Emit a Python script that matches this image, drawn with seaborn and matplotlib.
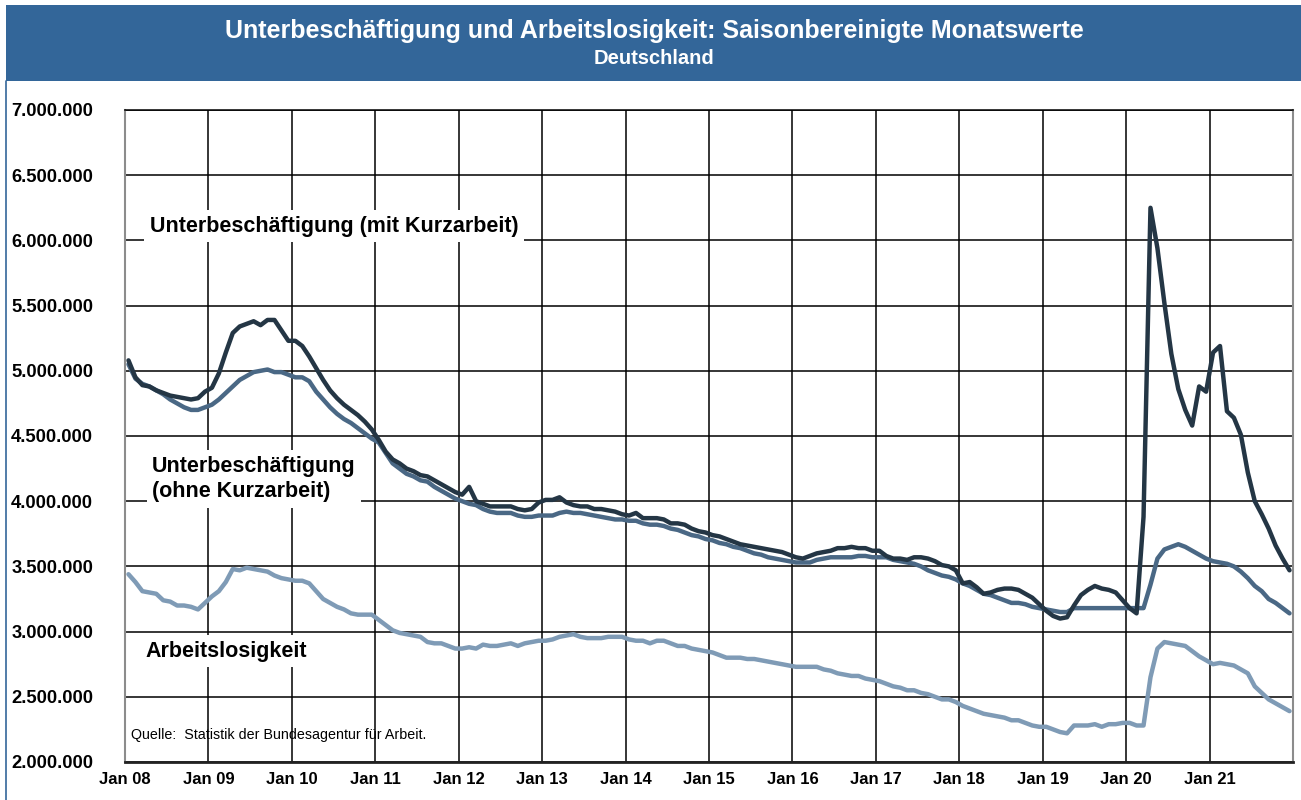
import numpy as np
import pandas as pd
import matplotlib
matplotlib.use("Agg")
import matplotlib.pyplot as plt
import seaborn as sns
from matplotlib.patches import Rectangle
from matplotlib.lines import Line2D
from matplotlib.ticker import FuncFormatter

# Monatswerte Jan 2008 - Dez 2021, in Mio. Personen
mit_kurzarbeit = [
    5.08, 4.95, 4.89, 4.88, 4.85, 4.83, 4.81, 4.80, 4.79, 4.78, 4.79, 4.84,  # 2008
    4.87, 4.98, 5.14, 5.29, 5.34, 5.36, 5.38, 5.35, 5.39, 5.39, 5.31, 5.23,  # 2009
    5.23, 5.19, 5.11, 5.02, 4.93, 4.85, 4.79, 4.74, 4.70, 4.66, 4.61, 4.55,  # 2010
    4.47, 4.38, 4.32, 4.29, 4.25, 4.23, 4.20, 4.19, 4.16, 4.13, 4.10, 4.07,  # 2011
    4.05, 4.11, 4.00, 3.98, 3.96, 3.96, 3.96, 3.96, 3.94, 3.93, 3.94, 3.99,  # 2012
    4.01, 4.01, 4.03, 3.99, 3.97, 3.96, 3.96, 3.94, 3.94, 3.93, 3.92, 3.90,  # 2013
    3.89, 3.91, 3.87, 3.87, 3.87, 3.86, 3.83, 3.83, 3.82, 3.79, 3.77, 3.76,  # 2014
    3.74, 3.73, 3.71, 3.69, 3.67, 3.66, 3.65, 3.64, 3.63, 3.62, 3.61, 3.59,  # 2015
    3.57, 3.56, 3.58, 3.60, 3.61, 3.62, 3.64, 3.64, 3.65, 3.64, 3.64, 3.62,  # 2016
    3.62, 3.58, 3.56, 3.56, 3.55, 3.57, 3.57, 3.56, 3.54, 3.51, 3.50, 3.47,  # 2017
    3.37, 3.38, 3.34, 3.29, 3.30, 3.32, 3.33, 3.33, 3.32, 3.29, 3.26, 3.21,  # 2018
    3.16, 3.12, 3.10, 3.11, 3.20, 3.28, 3.32, 3.35, 3.33, 3.32, 3.30, 3.24,  # 2019
    3.18, 3.14, 3.88, 6.25, 5.94, 5.52, 5.13, 4.86, 4.70, 4.58, 4.88, 4.84,  # 2020
    5.14, 5.19, 4.69, 4.64, 4.51, 4.22, 4.00, 3.90, 3.79, 3.66, 3.56, 3.47,  # 2021
]

ohne_kurzarbeit = [
    5.05, 4.94, 4.90, 4.88, 4.85, 4.82, 4.78, 4.75, 4.72, 4.70, 4.70, 4.72,
    4.74, 4.78, 4.83, 4.88, 4.93, 4.96, 4.99, 5.00, 5.01, 4.99, 4.99, 4.97,
    4.95, 4.95, 4.92, 4.84, 4.78, 4.72, 4.67, 4.63, 4.60, 4.56, 4.52, 4.48,
    4.45, 4.37, 4.29, 4.25, 4.21, 4.19, 4.16, 4.15, 4.11, 4.08, 4.05, 4.02,
    4.00, 3.98, 3.97, 3.94, 3.92, 3.91, 3.91, 3.91, 3.89, 3.88, 3.88, 3.89,
    3.89, 3.89, 3.91, 3.92, 3.91, 3.91, 3.90, 3.89, 3.88, 3.87, 3.86, 3.86,
    3.85, 3.85, 3.83, 3.82, 3.82, 3.81, 3.79, 3.78, 3.76, 3.74, 3.73, 3.71,
    3.70, 3.68, 3.67, 3.65, 3.64, 3.62, 3.60, 3.59, 3.57, 3.56, 3.55, 3.54,
    3.53, 3.53, 3.53, 3.55, 3.56, 3.57, 3.57, 3.57, 3.57, 3.58, 3.58, 3.57,
    3.57, 3.57, 3.55, 3.54, 3.53, 3.52, 3.50, 3.47, 3.45, 3.43, 3.42, 3.40,
    3.37, 3.35, 3.32, 3.29, 3.28, 3.26, 3.24, 3.22, 3.22, 3.21, 3.19, 3.18,
    3.17, 3.16, 3.15, 3.15, 3.18, 3.18, 3.18, 3.18, 3.18, 3.18, 3.18, 3.18,
    3.18, 3.18, 3.18, 3.36, 3.56, 3.63, 3.65, 3.67, 3.65, 3.62, 3.59, 3.56,
    3.54, 3.53, 3.52, 3.50, 3.46, 3.41, 3.35, 3.31, 3.25, 3.22, 3.18, 3.14,
]

arbeitslosigkeit = [
    3.44, 3.38, 3.31, 3.30, 3.29, 3.24, 3.23, 3.20, 3.20, 3.19, 3.17, 3.22,
    3.27, 3.31, 3.38, 3.48, 3.47, 3.49, 3.48, 3.47, 3.46, 3.43, 3.41, 3.40,
    3.39, 3.39, 3.37, 3.31, 3.25, 3.22, 3.19, 3.17, 3.14, 3.13, 3.13, 3.13,
    3.09, 3.05, 3.01, 2.99, 2.98, 2.97, 2.96, 2.92, 2.91, 2.91, 2.89, 2.87,
    2.87, 2.88, 2.87, 2.90, 2.89, 2.89, 2.90, 2.91, 2.89, 2.91, 2.92, 2.93,
    2.93, 2.94, 2.96, 2.97, 2.98, 2.96, 2.95, 2.95, 2.95, 2.96, 2.96, 2.96,
    2.94, 2.93, 2.93, 2.91, 2.93, 2.93, 2.91, 2.89, 2.89, 2.87, 2.86, 2.85,
    2.84, 2.82, 2.80, 2.80, 2.80, 2.79, 2.79, 2.78, 2.77, 2.76, 2.75, 2.74,
    2.73, 2.73, 2.73, 2.73, 2.71, 2.70, 2.68, 2.67, 2.66, 2.66, 2.64, 2.63,
    2.62, 2.60, 2.58, 2.57, 2.55, 2.55, 2.53, 2.52, 2.50, 2.48, 2.48, 2.46,
    2.43, 2.41, 2.39, 2.37, 2.36, 2.35, 2.34, 2.32, 2.32, 2.30, 2.28, 2.27,
    2.27, 2.25, 2.23, 2.22, 2.28, 2.28, 2.28, 2.29, 2.27, 2.29, 2.29, 2.30,
    2.30, 2.28, 2.28, 2.65, 2.87, 2.92, 2.91, 2.90, 2.89, 2.85, 2.81, 2.78,
    2.75, 2.76, 2.75, 2.74, 2.71, 2.68, 2.58, 2.53, 2.48, 2.45, 2.42, 2.39,
]

jahr_labels = ["Jan 08", "Jan 09", "Jan 10", "Jan 11", "Jan 12", "Jan 13", "Jan 14",
               "Jan 15", "Jan 16", "Jan 17", "Jan 18", "Jan 19", "Jan 20", "Jan 21"]
y_ticks = [2.0, 2.5, 3.0, 3.5, 4.0, 4.5, 5.0, 5.5, 6.0, 6.5, 7.0]

reihen = ["Arbeitslosigkeit", "ohne Kurzarbeit", "mit Kurzarbeit"]
farben = {"Arbeitslosigkeit": "#7f9bb6",
          "ohne Kurzarbeit": "#4a6885",
          "mit Kurzarbeit": "#243645"}

# long format for seaborn, points sit in the middle of each month
n = len(arbeitslosigkeit)
monat = np.arange(n) + 0.5
df = pd.concat([
    pd.DataFrame({"monat": monat, "wert": arbeitslosigkeit, "reihe": "Arbeitslosigkeit"}),
    pd.DataFrame({"monat": monat, "wert": ohne_kurzarbeit, "reihe": "ohne Kurzarbeit"}),
    pd.DataFrame({"monat": monat, "wert": mit_kurzarbeit, "reihe": "mit Kurzarbeit"}),
])

sns.set_theme(style="white")
plt.rcParams["font.family"] = ["Liberation Sans", "DejaVu Sans"]
plt.rcParams["text.color"] = "black"

W, H = 1301, 800
fig = plt.figure(figsize=(W / 100, H / 100), dpi=100)
fig.patch.set_facecolor("white")

# title bar + left border
blau = "#336699"
fig.patches.append(Rectangle((6 / W, 1 - 81 / H), 1, 76 / H, transform=fig.transFigure,
                             facecolor=blau, edgecolor="none", zorder=0))
fig.lines.append(Line2D([6 / W, 6 / W], [0, 1 - 81 / H], transform=fig.transFigure,
                        color=blau, linewidth=1.2))
fig.text(654 / W, 1 - 31 / H, "Unterbeschäftigung und Arbeitslosigkeit: Saisonbereinigte Monatswerte",
         color="white", fontsize=18, fontweight="bold", ha="center", va="center")
fig.text(654 / W, 1 - 58 / H, "Deutschland", color="white", fontsize=14.5,
         fontweight="bold", ha="center", va="center")

ax = fig.add_axes([125 / W, 38 / H, 1168 / W, 652 / H])
sns.lineplot(data=df, x="monat", y="wert", hue="reihe", hue_order=reihen, palette=farben,
             linewidth=3.2, legend=False, ax=ax, zorder=3)

ax.set_xlim(0, 168)
ax.set_ylim(2.0, 7.0)
ax.set_xticks(np.arange(0, 12 * len(jahr_labels), 12))
ax.set_xticklabels(jahr_labels, fontweight="bold", fontsize=12)
ax.set_yticks(y_ticks)
ax.yaxis.set_major_formatter(FuncFormatter(lambda v, p: f"{v * 1e6:,.0f}".replace(",", ".")))
for lbl in ax.get_yticklabels():
    lbl.set_fontweight("bold")
ax.tick_params(axis="y", length=0, pad=23, labelsize=13.2, colors="black")
ax.tick_params(axis="x", length=0, pad=7, labelsize=12, colors="black")
ax.set_xlabel("")
ax.set_ylabel("")

ax.grid(True, color="black", linewidth=1.1)
ax.set_axisbelow(True)
for s in ["left", "right"]:
    ax.spines[s].set_color("#8c8c8c")
    ax.spines[s].set_linewidth(1.5)
ax.spines["top"].set_color("black")
ax.spines["top"].set_linewidth(1.1)
ax.spines["bottom"].set_color("#222222")
ax.spines["bottom"].set_linewidth(2)

box = dict(facecolor="white", edgecolor="none", pad=4)
ax.text(3.6, 6.11, "Unterbeschäftigung (mit Kurzarbeit)", fontsize=15.5, fontweight="bold",
        ha="left", va="center", bbox=box, zorder=2)
ax.text(3.9, 4.17, "Unterbeschäftigung\n(ohne Kurzarbeit)", fontsize=15.5, fontweight="bold",
        ha="left", va="center", linespacing=1.3, bbox=box, zorder=2)
ax.text(2.9, 2.85, "Arbeitslosigkeit", fontsize=15.5, fontweight="bold",
        ha="left", va="center", bbox=box, zorder=2)
ax.text(0.9, 2.205, "Quelle:  Statistik der Bundesagentur für Arbeit.", fontsize=10.3,
        ha="left", va="center", zorder=0.3)

fig.savefig("out.png", dpi=100)
